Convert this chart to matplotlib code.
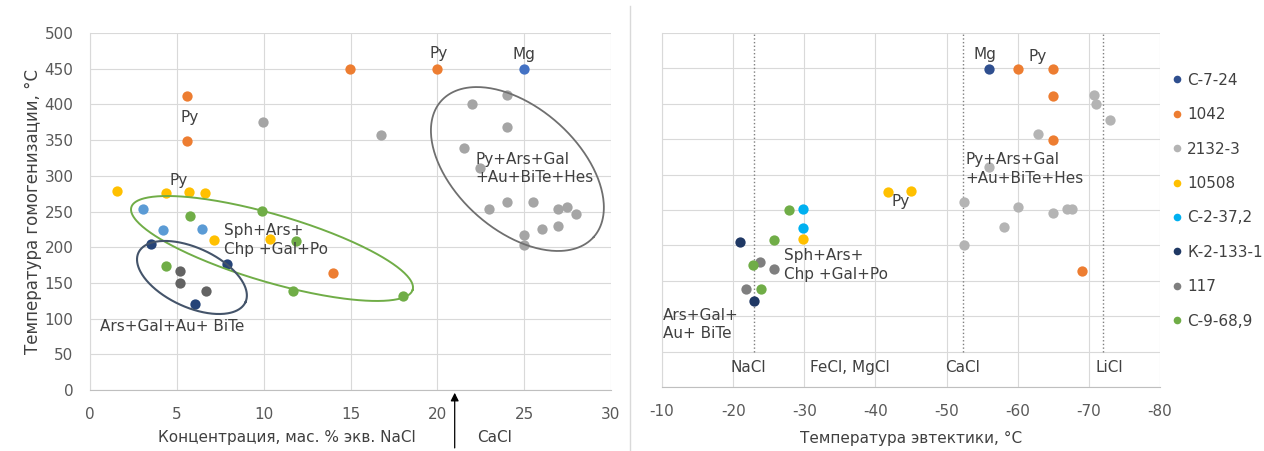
import numpy as np
import matplotlib
matplotlib.use("Agg")
import matplotlib.pyplot as plt
from matplotlib.lines import Line2D

plt.rcParams['font.family'] = ['DejaVu Sans']
plt.rcParams['axes.unicode_minus'] = False

# series names (legend order)
series = ['С-7-24', '1042', '2132-3', '10508', 'С-2-37,2', 'К-2-133-1', '117', 'С-9-68,9']
colors_left = ['#4472C4', '#ED7D31', '#A5A5A5', '#FFC000', '#5B9BD5', '#264478', '#636363', '#70AD47']
colors_right = ['#2F4F8F', '#ED7D31', '#B4B4B4', '#FFC000', '#00B0F0', '#1F3864', '#7F7F7F', '#70AD47']

# left panel: concentration (wt % NaCl eq.) vs homogenization temperature
conc = {
    'С-7-24': [25.0],
    '1042': [5.57, 5.57, 14.97, 20.0, 14.0],
    '2132-3': [9.98, 16.75, 21.97, 23.99, 23.99, 21.53, 22.45, 22.99, 23.99, 25.52,
               26.96, 27.44, 27.98, 26.0, 26.96, 25.0, 25.0],
    '10508': [1.57, 4.38, 5.72, 6.62, 7.14, 10.36],
    'С-2-37,2': [3.07, 4.18, 6.47],
    'К-2-133-1': [3.49, 6.04, 7.9],
    '117': [5.18, 5.18, 6.66],
    'С-9-68,9': [5.76, 9.88, 11.86, 4.36, 11.67, 18.04],
}
t_hom_left = {
    'С-7-24': [450],
    '1042': [412, 349, 450, 450, 164],
    '2132-3': [376, 357, 400, 413, 369, 339, 311, 253, 263, 263, 253, 256, 247, 225, 229, 217, 203],
    '10508': [279, 276, 277, 276, 210, 212],
    'С-2-37,2': [253, 224, 225],
    'К-2-133-1': [205, 121, 176],
    '117': [167, 150, 138],
    'С-9-68,9': [243, 251, 209, 174, 139, 132],
}

# right panel: eutectic temperature vs homogenization temperature
t_eut = {
    'С-7-24': [-56.0],
    '1042': [-60.0, -65.0, -65.0, -65.0, -69.0],
    '2132-3': [-70.7, -71.0, -73.0, -62.8, -56.0, -52.4, -60.0, -65.0, -66.9, -67.6, -58.1, -52.4],
    '10508': [-41.8, -45.0, -29.8],
    'С-2-37,2': [-29.8, -29.8],
    'К-2-133-1': [-20.9, -22.9],
    '117': [-23.8, -25.8, -21.8],
    'С-9-68,9': [-27.9, -25.8, -22.8, -23.9],
}
t_hom_right = {
    'С-7-24': [449],
    '1042': [449, 449, 411, 349, 164],
    '2132-3': [412, 400, 377, 358, 311, 262, 254, 246, 251, 252, 226, 201],
    '10508': [276, 277, 209],
    'С-2-37,2': [251, 224],
    'К-2-133-1': [205, 122],
    '117': [176, 167, 138],
    'С-9-68,9': [250, 208, 173, 138],
}

# eutectic reference lines
salt_teut = [-23, -52.3, -72]
salt_label_x = [-22.1, -36.4, -52.3, -72.9]
salt_labels = ['NaCl', 'FeCl, MgCl', 'CaCl', 'LiCl']

# outlines of mineral associations: centre and two conjugate half-axes (data units)
green_oval = dict(c=(10.48, 198.2), u=(8.10, -57.8), v=(-0.55, -45.4))
dark_oval = dict(c=(5.87, 157.6), u=(3.08, -34.7), v=(-0.72, -37.6))
grey_oval = dict(c=(24.61, 309.5), u=(4.39, -95.3), v=(-2.35, -64.0))

tick_col = '#595959'
grid_col = '#D9D9D9'
txt_col = '#404040'
fs = 11

fig = plt.figure(figsize=(12.64, 4.51), dpi=100)
ax1 = fig.add_axes([90 / 1264, 61 / 451, 521 / 1264, 357 / 451])
ax2 = fig.add_axes([662 / 1264, 64 / 451, 498 / 1264, 354 / 451])


def style(ax):
    ax.set_ylim(0, 500)
    ax.set_yticks(np.arange(0, 501, 50))
    ax.grid(True, color=grid_col, lw=0.8)
    ax.set_axisbelow(True)
    for s in ['top', 'right']:
        ax.spines[s].set_visible(False)
    ax.spines['bottom'].set_color('#BFBFBF')
    ax.spines['left'].set_color('#D9D9D9')
    ax.tick_params(length=0, colors=tick_col, labelsize=fs)
    ax.tick_params(axis='x', pad=12)
    ax.tick_params(axis='y', pad=12)


def oval(ax, o, color, lw):
    t = np.linspace(0, 2 * np.pi, 300)
    x = o['c'][0] + o['u'][0] * np.cos(t) + o['v'][0] * np.sin(t)
    y = o['c'][1] + o['u'][1] * np.cos(t) + o['v'][1] * np.sin(t)
    ax.plot(x, y, color=color, lw=lw, zorder=4)


# ---- left panel
style(ax1)
ax1.set_xlim(0, 30)
ax1.set_xticks(np.arange(0, 31, 5))
for name, col in zip(series, colors_left):
    ax1.scatter(conc[name], t_hom_left[name], s=55, color=col, zorder=3, linewidths=0)

oval(ax1, green_oval, '#70AD47', 1.4)
oval(ax1, dark_oval, '#44546A', 1.5)
oval(ax1, grey_oval, '#6F6F6F', 1.3)

ax1.text(5.76, 381, 'Py', ha='center', va='center', fontsize=fs, color=txt_col)
ax1.text(5.08, 294, 'Py', ha='center', va='center', fontsize=fs, color=txt_col)
ax1.text(20.1, 471, 'Py', ha='center', va='center', fontsize=fs, color=txt_col)
ax1.text(25.0, 470, 'Mg', ha='center', va='center', fontsize=fs, color=txt_col)
ax1.text(22.2, 310, 'Py+Ars+Gal\n+Au+BiTe+Hes', ha='left', va='center', fontsize=fs,
         color=txt_col, linespacing=1.3, zorder=5)
ax1.text(7.7, 210, 'Sph+Ars+\nChp +Gal+Po', ha='left', va='center', fontsize=fs,
         color=txt_col, linespacing=1.3, zorder=5)
ax1.text(0.55, 89, 'Ars+Gal+Au+ BiTe', ha='left', va='center', fontsize=fs, color=txt_col)

ax1.set_ylabel('Температура гомогенизации, °C', fontsize=12, color=txt_col, labelpad=2)
ax1.set_xlabel('Концентрация, мас. % экв. NaCl', fontsize=fs, color=txt_col,
               x=0.378, labelpad=6)
ax1.annotate('', xy=(21.0, 0.0), xycoords=('data', 'axes fraction'),
             xytext=(21.0, -0.17), textcoords=('data', 'axes fraction'),
             arrowprops=dict(arrowstyle='-|>', color='black', lw=0.9, mutation_scale=12),
             annotation_clip=False)
ax1.text(22.3, -0.132, 'CaCl', transform=ax1.get_xaxis_transform(), ha='left',
         va='center', fontsize=fs, color=txt_col)

# ---- right panel
style(ax2)
ax2.set_xlim(-10, -80)
ax2.set_xticks(np.arange(-10, -81, -10))
ax2.set_yticklabels([])
for name, col in zip(series, colors_right):
    ax2.scatter(t_eut[name], t_hom_right[name], s=55, color=col, zorder=3, linewidths=0)
for xv in salt_teut:
    ax2.plot([xv, xv], [50, 500], ls=':', color='#7F7F7F', lw=1.0, zorder=2)

for xv, t in zip(salt_label_x, salt_labels):
    ax2.text(xv, 27, t, ha='center', va='center', fontsize=fs, color=txt_col)

ax2.text(-55.4, 470, 'Mg', ha='center', va='center', fontsize=fs, color=txt_col)
ax2.text(-62.8, 467, 'Py', ha='center', va='center', fontsize=fs, color=txt_col)
ax2.text(-43.6, 262, 'Py', ha='center', va='center', fontsize=fs, color=txt_col)
ax2.text(-52.7, 308, 'Py+Ars+Gal\n+Au+BiTe+Hes', ha='left', va='center', fontsize=fs,
         color=txt_col, linespacing=1.3, zorder=5)
ax2.text(-27.2, 172, 'Sph+Ars+\nChp +Gal+Po', ha='left', va='center', fontsize=fs,
         color=txt_col, linespacing=1.3, zorder=5)
ax2.text(-10.1, 88, 'Ars+Gal+\nAu+ BiTe', ha='left', va='center', fontsize=fs,
         color=txt_col, linespacing=1.3)
ax2.set_xlabel('Температура эвтектики, °C', fontsize=fs, color=txt_col, labelpad=9)

handles = [Line2D([], [], ls='none', marker='o', markersize=5.5, markeredgewidth=0,
                  color=c) for c in colors_right]
fig.legend(handles, series, loc='upper left', bbox_to_anchor=(1158 / 1264, 1 - 59 / 451),
           frameon=False, fontsize=fs, labelspacing=1.27, handlelength=0.7,
           handletextpad=0.3, labelcolor=txt_col)

# separator between panels
fig.add_artist(Line2D([630 / 1264, 630 / 1264], [0, 1 - 6 / 451], color='#D9D9D9', lw=1))

fig.savefig('out.png', dpi=100)
